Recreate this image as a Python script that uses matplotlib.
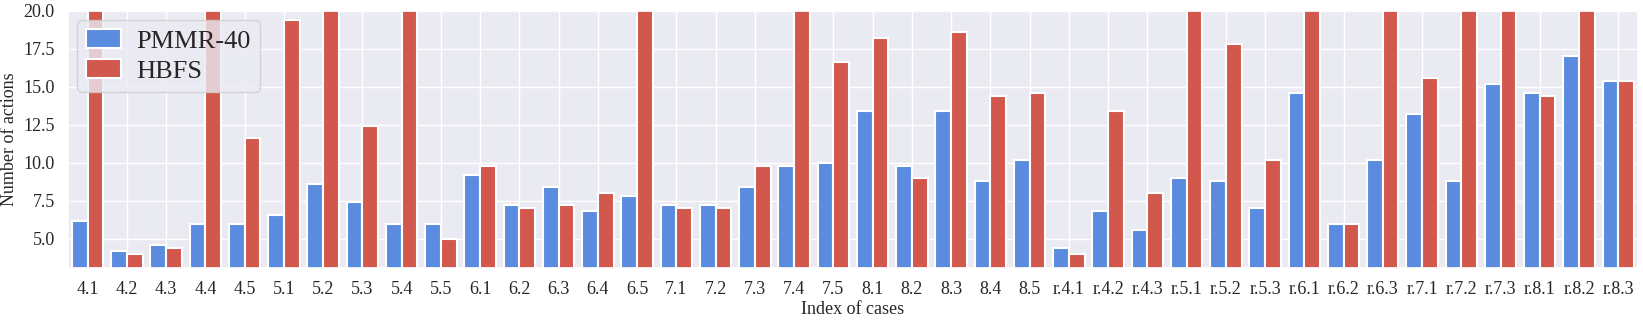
import matplotlib
matplotlib.use("Agg")
from matplotlib import pyplot as plt
from matplotlib import patches as mpatches
from matplotlib.legend_handler import HandlerPatch
import seaborn as sns
import numpy as np

sns.set_theme(style="darkgrid")
plt.rcParams["font.family"] = ["Liberation Serif", "DejaVu Serif"]

# Данные
cases = ["4.1", "4.2", "4.3", "4.4", "4.5",
         "5.1", "5.2", "5.3", "5.4", "5.5",
         "6.1", "6.2", "6.3", "6.4", "6.5",
         "7.1", "7.2", "7.3", "7.4", "7.5",
         "8.1", "8.2", "8.3", "8.4", "8.5",
         "r.4.1", "r.4.2", "r.4.3", "r.5.1", "r.5.2", "r.5.3",
         "r.6.1", "r.6.2", "r.6.3", "r.7.1", "r.7.2", "r.7.3",
         "r.8.1", "r.8.2", "r.8.3"]
pmmr = [6.2, 4.2, 4.6, 6.0, 6.0,
        6.6, 8.6, 7.4, 6.0, 6.0,
        9.2, 7.2, 8.4, 6.8, 7.8,
        7.2, 7.2, 8.4, 9.8, 10.0,
        13.4, 9.8, 13.4, 8.8, 10.2,
        4.4, 6.8, 5.6, 9.0, 8.8, 7.0,
        14.6, 6.0, 10.2, 13.2, 8.8, 15.2,
        14.6, 17.0, 15.4]
# значения выше 20 обрезаны осью
hbfs = [25.0, 4.0, 4.4, 25.0, 11.6,
        19.4, 25.0, 12.4, 25.0, 5.0,
        9.8, 7.0, 7.2, 8.0, 25.0,
        7.0, 7.0, 9.8, 25.0, 16.6,
        18.2, 9.0, 18.6, 14.4, 14.6,
        4.0, 13.4, 8.0, 25.0, 17.8, 10.2,
        25.0, 6.0, 25.0, 15.6, 25.0, 25.0,
        14.4, 25.0, 15.4]


def thin_patch(legend, orig_handle, xdescent, ydescent, width, height, fontsize):
    """Тонкий прямоугольник для легенды"""
    return mpatches.Rectangle((-xdescent, -ydescent + height * 0.2), width, height * 0.6)


fig = plt.figure(figsize=(16.43, 3.23), dpi=100)
ax = fig.add_axes([0.0414, 0.17, 0.9555, 0.797])

x = np.arange(len(cases))
w = 0.4
ax.bar(x - w / 2, pmmr, w, color="#5A8BDE", edgecolor="white", linewidth=1.5, label="PMMR-40")
ax.bar(x + w / 2, hbfs, w, color="#D2574C", edgecolor="white", linewidth=1.5, label="HBFS")

ax.set_xlim(-0.5, len(cases) - 0.5)
ax.set_ylim(3.08, 20)
ax.set_yticks([5.0, 7.5, 10.0, 12.5, 15.0, 17.5, 20.0])
ax.set_xticks(x)
ax.set_xticklabels(cases)
ax.tick_params(labelsize=13)
ax.set_xlabel("Index of cases", fontsize=13, labelpad=2)
ax.set_ylabel("Number of actions", fontsize=13)

ax.legend(loc="upper left", fontsize=19, bbox_to_anchor=(0.0, 1.0), borderaxespad=0.35,
          handlelength=1.3, handleheight=0.7, labelspacing=0.25, borderpad=0.35,
          handletextpad=0.6,
          handler_map={mpatches.Rectangle: HandlerPatch(patch_func=thin_patch)})

fig.savefig("out.png", dpi=100)
